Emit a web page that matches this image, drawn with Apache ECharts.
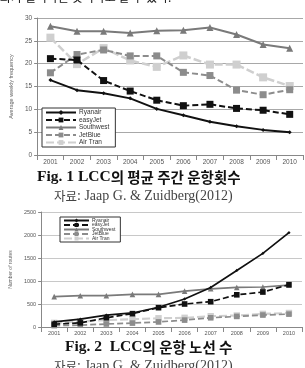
<!DOCTYPE html>
<html><head><meta charset="utf-8">
<script src="https://cdn.jsdelivr.net/npm/echarts@6/dist/echarts.min.js"></script>
<style>html,body{margin:0;padding:0;background:#fff}#c{width:305px;height:368px}</style>
</head><body><div id="c"></div>
<script>
const years = ['2001','2002','2003','2004','2005','2006','2007','2008','2009','2010'];
const seriesNames = ['Ryanair','easyJet','Southwest','JetBlue','Air Tran'];
// Fig.1 average weekly frequency
const freqRyanair   = [16.4,14.2,13.5,12.4,10.1,8.7,7.3,6.3,5.5,5.0];
const freqEasyJet   = [21.1,20.8,16.3,14.0,12.0,10.8,11.1,10.2,9.8,8.9];
const freqSouthwest = [28.2,27.1,27.1,26.7,27.2,27.3,27.9,26.4,24.2,23.4];
const freqJetBlue   = [18.0,22.0,23.0,21.7,21.7,18.1,17.4,14.2,13.2,14.3];
const freqAirTran   = [25.7,19.9,23.4,20.7,19.3,21.8,19.8,19.8,17.0,15.1];
// Fig.2 number of routes
const routeRyanair   = [110,170,260,305,430,610,860,1230,1600,2050];
const routeEasyJet   = [60,90,200,290,420,500,550,700,760,920];
const routeSouthwest = [660,680,680,710,710,780,830,860,870,910];
const routeJetBlue   = [30,40,65,85,110,150,200,230,260,280];
const routeAirTran   = [90,120,150,170,190,200,235,250,285,305];
const freqTicks = [0,5,10,15,20,25,30];
const routeTicks = [0,500,1000,1500,2000,2500];

const styles = [
  {color:'#111', type:'solid', symbol:'diamond', size:[4,4], width:2},
  {color:'#111', type:[6,3], symbol:'rect', size:[7,7], width:2},
  {color:'#7a7a7a', type:'solid', symbol:'triangle', size:[7,7], width:2},
  {color:'#8c8c8c', type:[6,3], symbol:'rect', size:[7,7], width:2},
  {color:'#cfcfcf', type:[8,3], symbol:'rect', size:[8,8], width:2.5}
];
const freqData = [freqRyanair,freqEasyJet,freqSouthwest,freqJetBlue,freqAirTran];
const routeData = [routeRyanair,routeEasyJet,routeSouthwest,routeJetBlue,routeAirTran];

function mk(i, data, axis, scale){
  const s = styles[i];
  return {
    name: seriesNames[i], type:'line', xAxisIndex:axis, yAxisIndex:axis,
    data:data, symbol:s.symbol, symbolSize:s.size[axis]*scale, showSymbol:true,
    lineStyle:{color:s.color, type:s.type, width:s.width*(axis?0.85:1)},
    itemStyle:{color:s.color}, animation:false, z: 10-i
  };
}
const series = [];
for(let i=4;i>=0;i--) series.push(mk(i, freqData[i], 0, 1));
for(let i=4;i>=0;i--) series.push(mk(i, routeData[i], 1, 0.8));

const axisFont = 'Liberation Sans';
const capRich = {b:{fontSize:15.5, fontWeight:'bold', fontFamily:'Liberation Serif', fill:'#111'}, k:{fontSize:14.5, fontWeight:'bold', fontFamily:'Noto Sans CJK KR', fill:'#111'}};
const srcRich = {k:{fontSize:12.5, fontFamily:'Noto Sans CJK KR', fill:'#444'}, e:{fontSize:14, fontFamily:'Liberation Serif', fill:'#444'}};
const chart = echarts.init(document.getElementById('c'), null, {renderer:'canvas'});
chart.setOption({
  animation:false,
  backgroundColor:'#fff',
  grid:[
    {left:33, right:2, top:18, bottom:213},
    {left:41, right:3, top:212, bottom:41}
  ],
  xAxis:[
    {gridIndex:0, type:'category', data:years, boundaryGap:true,
     axisLine:{lineStyle:{color:'#888'}}, axisTick:{show:true, lineStyle:{color:'#888'}},
     axisLabel:{fontSize:6.5, color:'#555', fontFamily:axisFont, margin:4, interval:0}},
    {gridIndex:1, type:'category', data:years, boundaryGap:true,
     axisLine:{lineStyle:{color:'#888'}}, axisTick:{show:true, lineStyle:{color:'#888'}},
     axisLabel:{fontSize:5.5, color:'#555', fontFamily:axisFont, margin:3, interval:0}}
  ],
  yAxis:[
    {gridIndex:0, type:'value', min:freqTicks[0], max:freqTicks[freqTicks.length-1], interval:5,
     name:'Average weekly frequency', nameLocation:'middle', nameGap:20, nameRotate:90,
     nameTextStyle:{fontSize:5.5, color:'#666', fontFamily:axisFont},
     axisLine:{show:true, lineStyle:{color:'#888'}}, axisTick:{show:true, length:3, lineStyle:{color:'#888'}},
     axisLabel:{fontSize:6.5, color:'#555', fontFamily:axisFont, margin:5, formatter:v=>String(v)},
     splitLine:{lineStyle:{color:'#a8a8a8', width:1}}},
    {gridIndex:1, type:'value', min:routeTicks[0], max:routeTicks[routeTicks.length-1], interval:500,
     name:'Number of routes', nameLocation:'middle', nameGap:26, nameRotate:90,
     nameTextStyle:{fontSize:5, color:'#666', fontFamily:axisFont},
     axisLine:{show:true, lineStyle:{color:'#888'}}, axisTick:{show:true, length:3, lineStyle:{color:'#888'}},
     axisLabel:{fontSize:5.5, color:'#555', fontFamily:axisFont, margin:5, formatter:v=>String(v)},
     splitLine:{lineStyle:{color:'#c8c8c8', width:1}}}
  ],
  legend:[
    {data:seriesNames, orient:'vertical', left:42, top:108, itemGap:0.5, itemWidth:30, itemHeight:6,
     padding:[1,6,1,3], borderColor:'#333', borderWidth:1, backgroundColor:'#fff',
     textStyle:{fontSize:6.5, color:'#333', fontFamily:axisFont, padding:[0,0,0,-2]}, selectedMode:false},
    {data:seriesNames, orient:'vertical', left:60, top:217, itemGap:-0.5, itemWidth:25, itemHeight:5,
     padding:[1,5,1,3], borderColor:'#333', borderWidth:1, backgroundColor:'#fff',
     textStyle:{fontSize:5, color:'#333', fontFamily:axisFont, padding:[0,0,0,-2]}, selectedMode:false}
  ],
  graphic:[
    {type:'text', left:0, top:-9, style:{text:'화가 일어나는 것이라고 할 수 있다.', fontSize:12, fill:'#111', fontFamily:'Noto Sans CJK KR'}},
    {type:'text', left:37, top:169, style:{rich:capRich, text:'{b|Fig. 1 LCC}{k|의 평균 주간 운항횟수}'}},
    {type:'text', left:54, top:189, style:{rich:srcRich, text:'{k|자료}{e|: Jaap G. & Zuidberg(2012)}'}},
    {type:'text', left:65, top:339, style:{rich:capRich, text:'{b|Fig. 2  LCC}{k|의 운항 노선 수}'}},
    {type:'text', left:54, top:359, style:{rich:srcRich, text:'{k|자료}{e|: Jaap G. & Zuidberg(2012)}'}}
  ],
  series:series
});
</script></body></html>
